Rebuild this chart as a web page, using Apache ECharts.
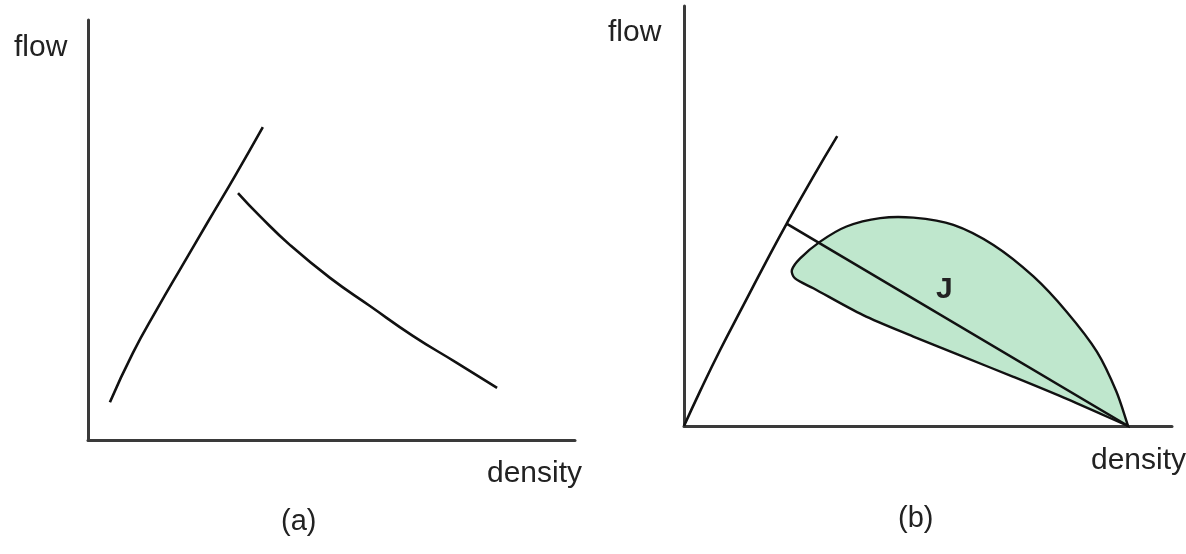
<!DOCTYPE html>
<html>
<head>
<meta charset="utf-8">
<script src="https://cdn.jsdelivr.net/npm/echarts@6/dist/echarts.min.js"></script>
<style>
  html, body { margin: 0; padding: 0; background: #fff; }
  #chart { width: 1186px; height: 554px; }
</style>
</head>
<body>
<div id="chart"></div>
<script>
// panel (a): free flow branch and congested branch (arbitrary units 0..100)
var freeDensityA = [4.5, 9.2, 14.2, 19.3, 24.6, 30.2, 35.9]
var freeFlowA = [9.0, 20.7, 31.2, 41.4, 51.9, 62.9, 74.5]
var jamDensityA = [30.8, 35.3, 41.5, 49.7, 57.9, 66.7, 75.4, 84.0]
var jamFlowA = [58.8, 53.3, 46.4, 38.6, 31.9, 24.8, 18.6, 12.4]

// panel (b): free flow line, chord J, shaded region
var freeDensityB = [0, 3.3, 7.4, 12.1, 16.6, 21.1, 26.2, 31.4]
var freeFlowB = [0, 8.3, 18.1, 28.6, 38.6, 48.3, 58.8, 69.0]
var chordDensity = [21.1, 91.0]
var chordFlow = [48.1, 0]
// outline of the region, starts and ends at the jam point (kept twice so the corner stays sharp)
var blobDensity = [91.0, 88.6, 84.6, 78.4, 71.6, 63.4, 55.2, 47.0, 40.2, 33.3, 27.9, 23.8, 22.1, 22.7, 26.5, 36.7, 47.0, 57.2, 67.5, 77.7, 91.0]
var blobFlow = [0, 8.2, 17.7, 27.2, 35.6, 43.1, 47.9, 49.6, 49.5, 47.5, 43.9, 39.9, 37.1, 35.2, 32.8, 26.4, 21.3, 16.5, 11.7, 6.8, 0]

var labels = { y: 'flow', x: 'density', a: '(a)', b: '(b)', j: 'J' }

function pairs(xs, ys) {
  return xs.map(function (x, i) { return [x, ys[i]] })
}

var chart = echarts.init(document.getElementById('chart'), null, { renderer: 'canvas' })

var axisStyle = { lineStyle: { color: '#3a3a3a', width: 3 } }
function valueAxis(idx) {
  return {
    type: 'value', gridIndex: idx, min: 0, max: 100,
    axisLine: axisStyle,
    axisTick: { show: false },
    axisLabel: { show: false },
    splitLine: { show: false }
  }
}

var curveStyle = { color: '#111', width: 2.6 }
function curve(name, idx, data) {
  return {
    name: name, type: 'line', xAxisIndex: idx, yAxisIndex: idx,
    data: data, smooth: 0.5, showSymbol: false, silent: true,
    lineStyle: curveStyle, animation: false
  }
}

var font = 'Liberation Sans, Arial, sans-serif'
function txt(left, top, s, size, weight) {
  return {
    type: 'text', left: left, top: top, z: 100,
    style: { text: s, font: (weight || 'normal') + ' ' + size + 'px ' + font, fill: '#222' }
  }
}

chart.setOption({
  backgroundColor: '#fff',
  animation: false,
  grid: [
    { left: 88, top: 20, width: 487, height: 420 },
    { left: 684, top: 6, width: 488, height: 420 }
  ],
  xAxis: [valueAxis(0), valueAxis(1)],
  yAxis: [valueAxis(0), valueAxis(1)],
  series: [
    curve('free a', 0, pairs(freeDensityA, freeFlowA)),
    curve('jam a', 0, pairs(jamDensityA, jamFlowA)),
    {
      name: 'region', type: 'custom', xAxisIndex: 1, yAxisIndex: 1,
      data: [[0, 0]], silent: true, z: 1,
      renderItem: function (params, api) {
        var pts = blobDensity.map(function (d, i) { return api.coord([d, blobFlow[i]]) })
        return {
          type: 'polygon',
          shape: { points: pts, smooth: 0.3 },
          style: { fill: '#bfe7cd', stroke: '#111', lineWidth: 2.4 }
        }
      }
    },
    curve('free b', 1, pairs(freeDensityB, freeFlowB)),
    Object.assign(curve('J', 1, pairs(chordDensity, chordFlow)), { smooth: false, z: 3 })
  ],
  graphic: [
    txt(14, 33, labels.y, 30),
    txt(608, 18, labels.y, 30),
    txt(487, 459, labels.x, 30),
    txt(1091, 446, labels.x, 30),
    txt(281, 507, labels.a, 29),
    txt(898, 504, labels.b, 29),
    txt(936, 275, labels.j, 30, 'bold')
  ]
})
</script>
</body>
</html>
